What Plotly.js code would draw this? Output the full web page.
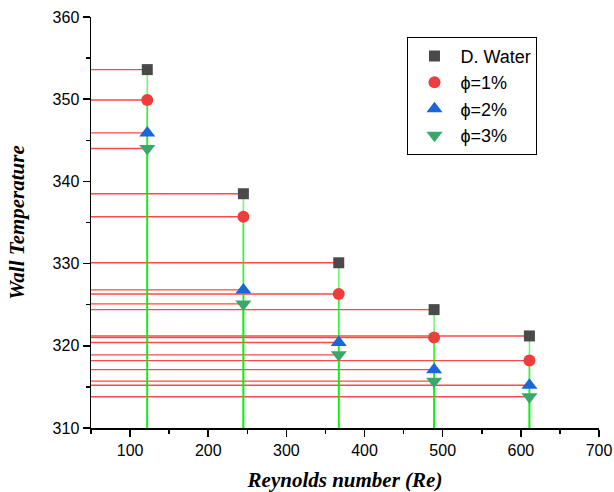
<!DOCTYPE html>
<html>
<head>
<meta charset="utf-8">
<script src="https://cdn.plot.ly/plotly-3.0.1.min.js"></script>
<style>html,body{margin:0;padding:0;background:#fff}#chart{width:614px;height:492px}</style>
</head>
<body>
<div id="chart"></div>
<script>
// Data
const re = [122, 245, 367, 489, 611];
const dWater = [353.6, 338.5, 330.1, 324.4, 321.2];
const phi1 = [349.9, 335.7, 326.3, 321.0, 318.2];
const phi2 = [345.9, 326.8, 320.4, 317.1, 315.2];
const phi3 = [344.0, 325.1, 318.9, 315.7, 313.8];
const seriesNames = ['D. Water', 'ϕ=1%', 'ϕ=2%', 'ϕ=3%'];

const seriesValues = [dWater, phi1, phi2, phi3];
const symbols = ['square', 'circle', 'triangle-up', 'triangle-down'];
const colors = ['#4a4a4a', '#ef3d3d', '#1c66dc', '#3aa86a'];
const sizes = [11, 12, 14, 14];
const xRange = [50, 700];
const yRange = [310, 360];

const traces = [];
// horizontal (red) drop lines to the y axis
seriesValues.forEach(vals => {
  const xs = [], ys = [];
  re.forEach((r, i) => { xs.push(xRange[0], r, null); ys.push(vals[i], vals[i], null); });
  traces.push({x: xs, y: ys, mode: 'lines', line: {color: 'rgba(255,0,0,0.72)', width: 1.4},
               showlegend: false, hoverinfo: 'skip'});
});
// vertical (green) drop lines to the x axis
seriesValues.forEach(vals => {
  const xs = [], ys = [];
  re.forEach((r, i) => { xs.push(r, r, null); ys.push(yRange[0], vals[i], null); });
  traces.push({x: xs, y: ys, mode: 'lines', line: {color: 'rgba(0,240,0,0.55)', width: 1.6},
               showlegend: false, hoverinfo: 'skip'});
});
// markers
seriesValues.forEach((vals, k) => {
  traces.push({x: re, y: vals, name: seriesNames[k], mode: 'markers', cliponaxis: false,
               marker: {symbol: symbols[k], color: colors[k], size: sizes[k], line: {width: 0}}});
});

const tickFont = {family: 'Liberation Sans, Arial, sans-serif', size: 16, color: '#000'};
const titleFont = {family: 'Liberation Serif, Times New Roman, serif', size: 21, color: '#000', weight: 'bold', style: 'italic'};

const layout = {
  width: 614, height: 492,
  margin: {l: 91, r: 15, t: 17, b: 64},
  paper_bgcolor: '#fff', plot_bgcolor: '#fff',
  showlegend: true,
  legend: {x: 0.623, y: 0.952, xanchor: 'left', yanchor: 'top', bgcolor: '#fff', itemwidth: 42,
           bordercolor: '#000', borderwidth: 1, font: {family: 'Liberation Sans, Arial, sans-serif', size: 18, color: '#000'}},
  xaxis: {range: [xRange[0], xRange[1] + 0.001], showline: true, linecolor: '#000', linewidth: 1.5, showgrid: false, zeroline: false,
          ticks: 'outside', ticklen: 7, tickwidth: 1.5, tickcolor: '#000', dtick: 100, tick0: 0,
          ticklabeloverflow: 'allow',
          minor: {dtick: 50, ticks: 'outside', ticklen: 4, tickwidth: 1.5, tickcolor: '#000'},
          tickfont: tickFont,
          title: {text: 'Reynolds number (Re)', font: titleFont, standoff: 16}},
  yaxis: {range: yRange, showline: true, linecolor: '#000', linewidth: 1.5, showgrid: false, zeroline: false,
          ticks: 'outside', ticklen: 7, tickwidth: 1.5, tickcolor: '#000', dtick: 10, tick0: 0,
          minor: {dtick: 5, ticks: 'outside', ticklen: 4, tickwidth: 1.5, tickcolor: '#000'},
          tickfont: tickFont,
          title: {text: 'Wall Temperature', font: titleFont, standoff: 22}}
};

Plotly.newPlot('chart', traces, layout, {displayModeBar: false, staticPlot: true});
</script>
</body>
</html>
